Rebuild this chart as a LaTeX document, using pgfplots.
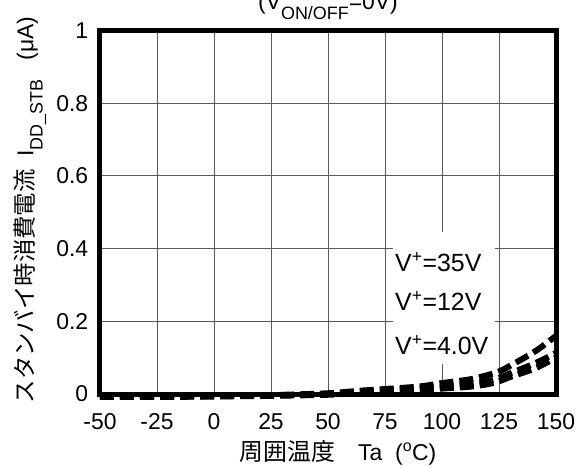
\documentclass[border=0pt]{standalone}
\usepackage{pgfplots}
\pgfplotsset{compat=1.18}
\usepackage{fontspec}
\setmainfont{Liberation Sans}
\newfontfamily\jp{Noto Sans CJK JP}
\begin{document}
\fontsize{23}{27}\selectfont
\begin{tikzpicture}
\begin{axis}[
 at={(0,0)}, anchor=south west,
 scale only axis, width=456bp, height=363.5bp,
 xmin=-50, xmax=150, ymin=0, ymax=1,
 xtick={-50,-25,0,25,50,75,100,125,150},
 ytick={0,0.2,0.4,0.6,0.8,1},
 yticklabels={0,0.2,0.4,0.6,0.8,1},
 grid=major, major grid style={black!65, line width=0.9bp},
 major tick length=0pt,
 axis line style={line width=5bp},
 tick label style={font=\fontsize{23}{27}\selectfont},
 /pgf/number format/assume math mode=true,
 xticklabel style={yshift=-12bp}, yticklabel style={xshift=-4bp},
 clip=false,
]
\fill[white] (axis cs:78.5,0.083) rectangle (axis cs:123.2,0.446);
\node[anchor=west, inner sep=0pt, font=\fontsize{25}{29}\selectfont] at (axis cs:79.4,0.363) {V\textsuperscript{+}=35V};
\node[anchor=west, inner sep=0pt, font=\fontsize{25}{29}\selectfont] at (axis cs:79.4,0.256) {V\textsuperscript{+}=12V};
\node[anchor=west, inner sep=0pt, font=\fontsize{25}{29}\selectfont] at (axis cs:79.4,0.135) {V\textsuperscript{+}=4.0V};
\addplot[black, line width=6bp, dash pattern=on 14bp off 6bp, smooth] coordinates {
 (-50,-0.006) (-25,-0.006) (0,-0.005) (25,-0.003) (50,0.002) (64,0.009) (89,0.02) (100,0.03) (112,0.04) (120,0.052) (125,0.062) (130,0.078) (141,0.118) (150,0.16)};
\addplot[black, line width=6bp, dash pattern=on 14bp off 6bp, smooth] coordinates {
 (-50,-0.007) (-25,-0.007) (0,-0.006) (25,-0.004) (50,0.0) (64,0.006) (89,0.015) (100,0.02) (112,0.027) (120,0.035) (125,0.044) (130,0.057) (141,0.085) (150,0.113)};
\addplot[black, line width=6bp, dash pattern=on 14bp off 6bp, smooth] coordinates {
 (-50,-0.008) (-25,-0.008) (0,-0.007) (25,-0.005) (50,-0.002) (64,0.003) (89,0.011) (100,0.015) (112,0.02) (120,0.027) (125,0.035) (130,0.047) (141,0.071) (150,0.1)};
\end{axis}
\node[anchor=base] at (228bp,384bp) {(V\raisebox{-0.4em}{\fontsize{18}{18}\selectfont ON/OFF}=0V)};
\node at (238bp,-59bp) {{\jp\fontsize{24}{28}\selectfont 周囲温度}\quad Ta\ \ (\textsuperscript{o}C)};
\node[rotate=90] at (-70bp,184bp) {{\jp\fontsize{23.5}{28}\selectfont スタンバイ時消費電流}\ \ I\raisebox{-0.4em}{\fontsize{18}{18}\selectfont DD\_STB}\ \ \ (μA)};
\pgfresetboundingbox
\useasboundingbox (-100bp,-74bp) rectangle (488bp,394bp);
\end{tikzpicture}
\end{document}
